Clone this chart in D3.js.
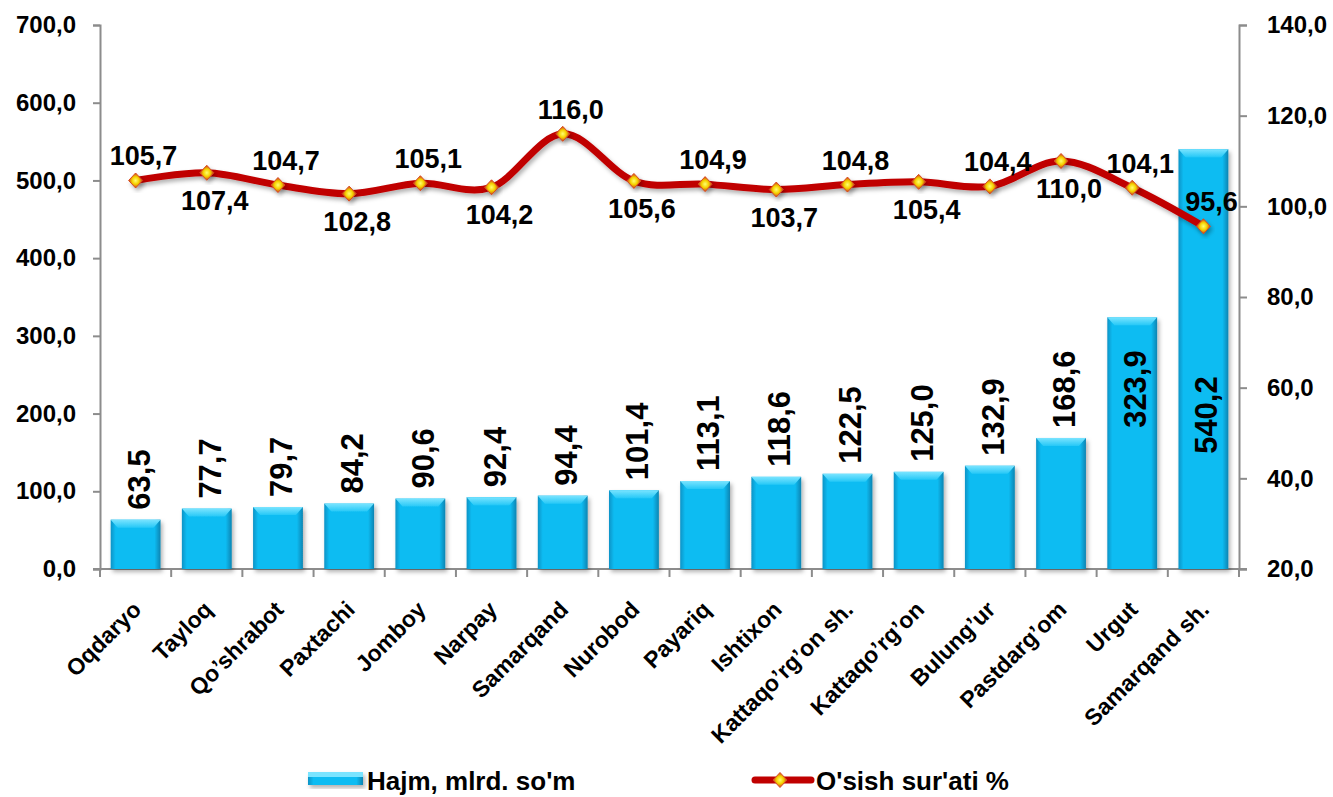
<!DOCTYPE html>
<html>
<head>
<meta charset="utf-8">
<script src="https://cdn.jsdelivr.net/npm/d3@7"></script>
<style>
body { margin:0; background:#fff; }
text { font-family: "Liberation Sans", Arial, sans-serif; font-weight:bold; }
</style>
</head>
<body>
<div id="chart"></div>
<script>
// data
const regions = ["Oqdaryo","Tayloq","Qo\u2019shrabot","Paxtachi","Jomboy","Narpay","Samarqand","Nurobod","Payariq","Ishtixon","Kattaqo\u2019rg\u2019on sh.","Kattaqo\u2019rg\u2019on","Bulung\u2019ur","Pastdarg\u2019om","Urgut","Samarqand sh."];
const volume = [63.5,77.7,79.7,84.2,90.6,92.4,94.4,101.4,113.1,118.6,122.5,125.0,132.9,168.6,323.9,540.2];
const growth = [105.7,107.4,104.7,102.8,105.1,104.2,116.0,105.6,104.9,103.7,104.8,105.4,104.4,110.0,104.1,95.6];
const growthLabelPos = ["up","down","up","down","up","down","up","down","up","down","up","down","up","down","up","up"];
const leftTicks = [0,100,200,300,400,500,600,700];
const rightTicks = [20,40,60,80,100,120,140];

const w = 1333, h = 797;
const pLeft = 100, pRight = 1239, pTop = 25, pBottom = 569;
const fmt = v => v.toFixed(1).replace(".", ",");

const svg = d3.select("#chart").append("svg").attr("width", w).attr("height", h);
const defs = svg.append("defs");

// bar gradient: darker sides, bright middle
const g1 = defs.append("linearGradient").attr("id","barGrad").attr("x1","0").attr("x2","1").attr("y1","0").attr("y2","0");
g1.append("stop").attr("offset","0").attr("stop-color","#0a93c6");
g1.append("stop").attr("offset","0.1").attr("stop-color","#0dbcf2");
g1.append("stop").attr("offset","0.88").attr("stop-color","#0dbcf2");
g1.append("stop").attr("offset","1").attr("stop-color","#0784b2");
const g2 = defs.append("linearGradient").attr("id","topGrad").attr("x1","0").attr("x2","0").attr("y1","0").attr("y2","1");
g2.append("stop").attr("offset","0").attr("stop-color","#7ae4ff");
g2.append("stop").attr("offset","1").attr("stop-color","#25c8f7");
const sh = defs.append("filter").attr("id","shadow").attr("x","-30%").attr("y","-30%").attr("width","160%").attr("height","160%");
sh.append("feDropShadow").attr("dx",2).attr("dy",3).attr("stdDeviation",2).attr("flood-color","#000").attr("flood-opacity",0.3);
const mg = defs.append("radialGradient").attr("id","markGrad");
mg.append("stop").attr("offset","0").attr("stop-color","#ffff70");
mg.append("stop").attr("offset","0.5").attr("stop-color","#f5d000");
mg.append("stop").attr("offset","1").attr("stop-color","#c83a1a");

const x = d3.scaleBand().domain(regions).range([pLeft, pRight]).paddingInner(0.3).paddingOuter(0.15);
const xc = d3.scalePoint().domain(regions).range([pLeft + (pRight-pLeft)/32, pRight - (pRight-pLeft)/32]);
const yL = d3.scaleLinear().domain([0,700]).range([pBottom, pTop]);
const yR = d3.scaleLinear().domain([20,140]).range([pBottom, pTop]);

// axes
const axisColor = "#8c8c8c";
const gl = svg.append("g").attr("transform", `translate(${pLeft},0)`)
  .call(d3.axisLeft(yL).tickValues(leftTicks).tickFormat(fmt).tickSizeOuter(0).tickSize(7).tickPadding(17));
const gr = svg.append("g").attr("transform", `translate(${pRight},0)`)
  .call(d3.axisRight(yR).tickValues(rightTicks).tickFormat(fmt).tickSizeOuter(0).tickSize(8).tickPadding(20));
const bandEdges = d3.range(regions.length + 1).map(i => pLeft + i*(pRight-pLeft)/regions.length);
const gb = svg.append("g").attr("transform", `translate(0,${pBottom})`);
gb.append("line").attr("x1", pLeft-7).attr("x2", pRight+8).attr("stroke", axisColor).attr("stroke-width",2);
gb.selectAll("line.t").data(bandEdges).enter().append("line").attr("class","t")
  .attr("x1", d=>d).attr("x2", d=>d).attr("y1",0).attr("y2",8).attr("stroke", axisColor).attr("stroke-width",2);
[gl, gr].forEach(g => {
  g.select(".domain").attr("stroke", axisColor).attr("stroke-width",2);
  g.selectAll(".tick line").attr("stroke", axisColor).attr("stroke-width",2);
  g.selectAll(".tick text").attr("font-size", 24).attr("fill","#000").attr("font-family","Liberation Sans, Arial").attr("font-weight","bold");
});

// category labels
gb.selectAll("text.cat").data(regions).enter().append("text").attr("class","cat")
  .attr("transform", d => `translate(${xc(d)+7},${42}) rotate(-45)`)
  .attr("text-anchor","end").attr("font-size",23).attr("fill","#000").text(d=>d);

// bars
const bars = svg.append("g").selectAll("g").data(volume).enter().append("g").attr("filter","url(#shadow)");
bars.append("rect")
  .attr("x", (d,i)=>x(regions[i])).attr("y", d=>yL(d))
  .attr("width", x.bandwidth()).attr("height", d=>pBottom - yL(d))
  .attr("fill","url(#barGrad)");
bars.append("path")
  .attr("d", (d,i) => {
    const x0 = x(regions[i]), x1 = x0 + x.bandwidth(), y0 = yL(d);
    return `M${x0},${y0}L${x1},${y0}L${x1-7},${y0+8}L${x0+7},${y0+8}Z`;
  }).attr("fill","url(#topGrad)");

// bar labels (rotated); tall bars get the label inside, pushed under the line label
svg.append("g").selectAll("text").data(volume).enter().append("text")
  .attr("transform", (d,i) => {
    const cx = xc(regions[i]) + 14;
    const yy = d > 300 ? Math.max(yL(d) + 33, yR(growth[i]) + 150) : yL(d) - 10;
    return `translate(${cx},${yy}) rotate(-90)`;
  })
  .attr("text-anchor", d => d > 300 ? "end" : "start")
  .attr("font-size", 31).attr("fill","#000").text(fmt);

// growth line
const line = d3.line().x((d,i)=>xc(regions[i])).y(d=>yR(d)).curve(d3.curveCatmullRom.alpha(0));
svg.append("path").datum(growth).attr("d", line).attr("fill","none")
  .attr("stroke","#c00000").attr("stroke-width",7).attr("filter","url(#shadow)");

const diamond = "M0,-7.5L7,0L0,7.5L-7,0Z";
svg.append("g").selectAll("path").data(growth).enter().append("path")
  .attr("d", diamond)
  .attr("transform", (d,i)=>`translate(${xc(regions[i])},${yR(d)})`)
  .attr("fill","url(#markGrad)").attr("stroke","#d84a20").attr("stroke-width",1)
  .attr("filter","url(#shadow)");

svg.append("g").selectAll("text").data(growth).enter().append("text")
  .attr("x", (d,i)=>xc(regions[i]) + 8)
  .attr("y", (d,i)=> growthLabelPos[i] === "up" ? yR(d) - 15 : yR(d) + 37)
  .attr("text-anchor","middle").attr("font-size",27).attr("fill","#000").text(fmt);

// legend
const lg = svg.append("g");
lg.append("rect").attr("x",308).attr("y",772).attr("width",55).attr("height",13).attr("fill","url(#barGrad)").attr("filter","url(#shadow)");
lg.append("rect").attr("x",308).attr("y",772).attr("width",55).attr("height",5).attr("fill","#7ae4ff");
lg.append("text").attr("x",367).attr("y",790).attr("font-size",26).attr("fill","#000").text("Hajm, mlrd. so'm");
lg.append("line").attr("x1",755).attr("x2",811).attr("y1",780).attr("y2",780).attr("stroke","#c00000").attr("stroke-width",7).attr("stroke-linecap","round");
lg.append("path").attr("d", diamond).attr("transform","translate(780,780)").attr("fill","url(#markGrad)").attr("stroke","#d84a20");
lg.append("text").attr("x",816).attr("y",790).attr("font-size",26).attr("fill","#000").text("O'sish sur'ati %");
</script>
</body>
</html>
